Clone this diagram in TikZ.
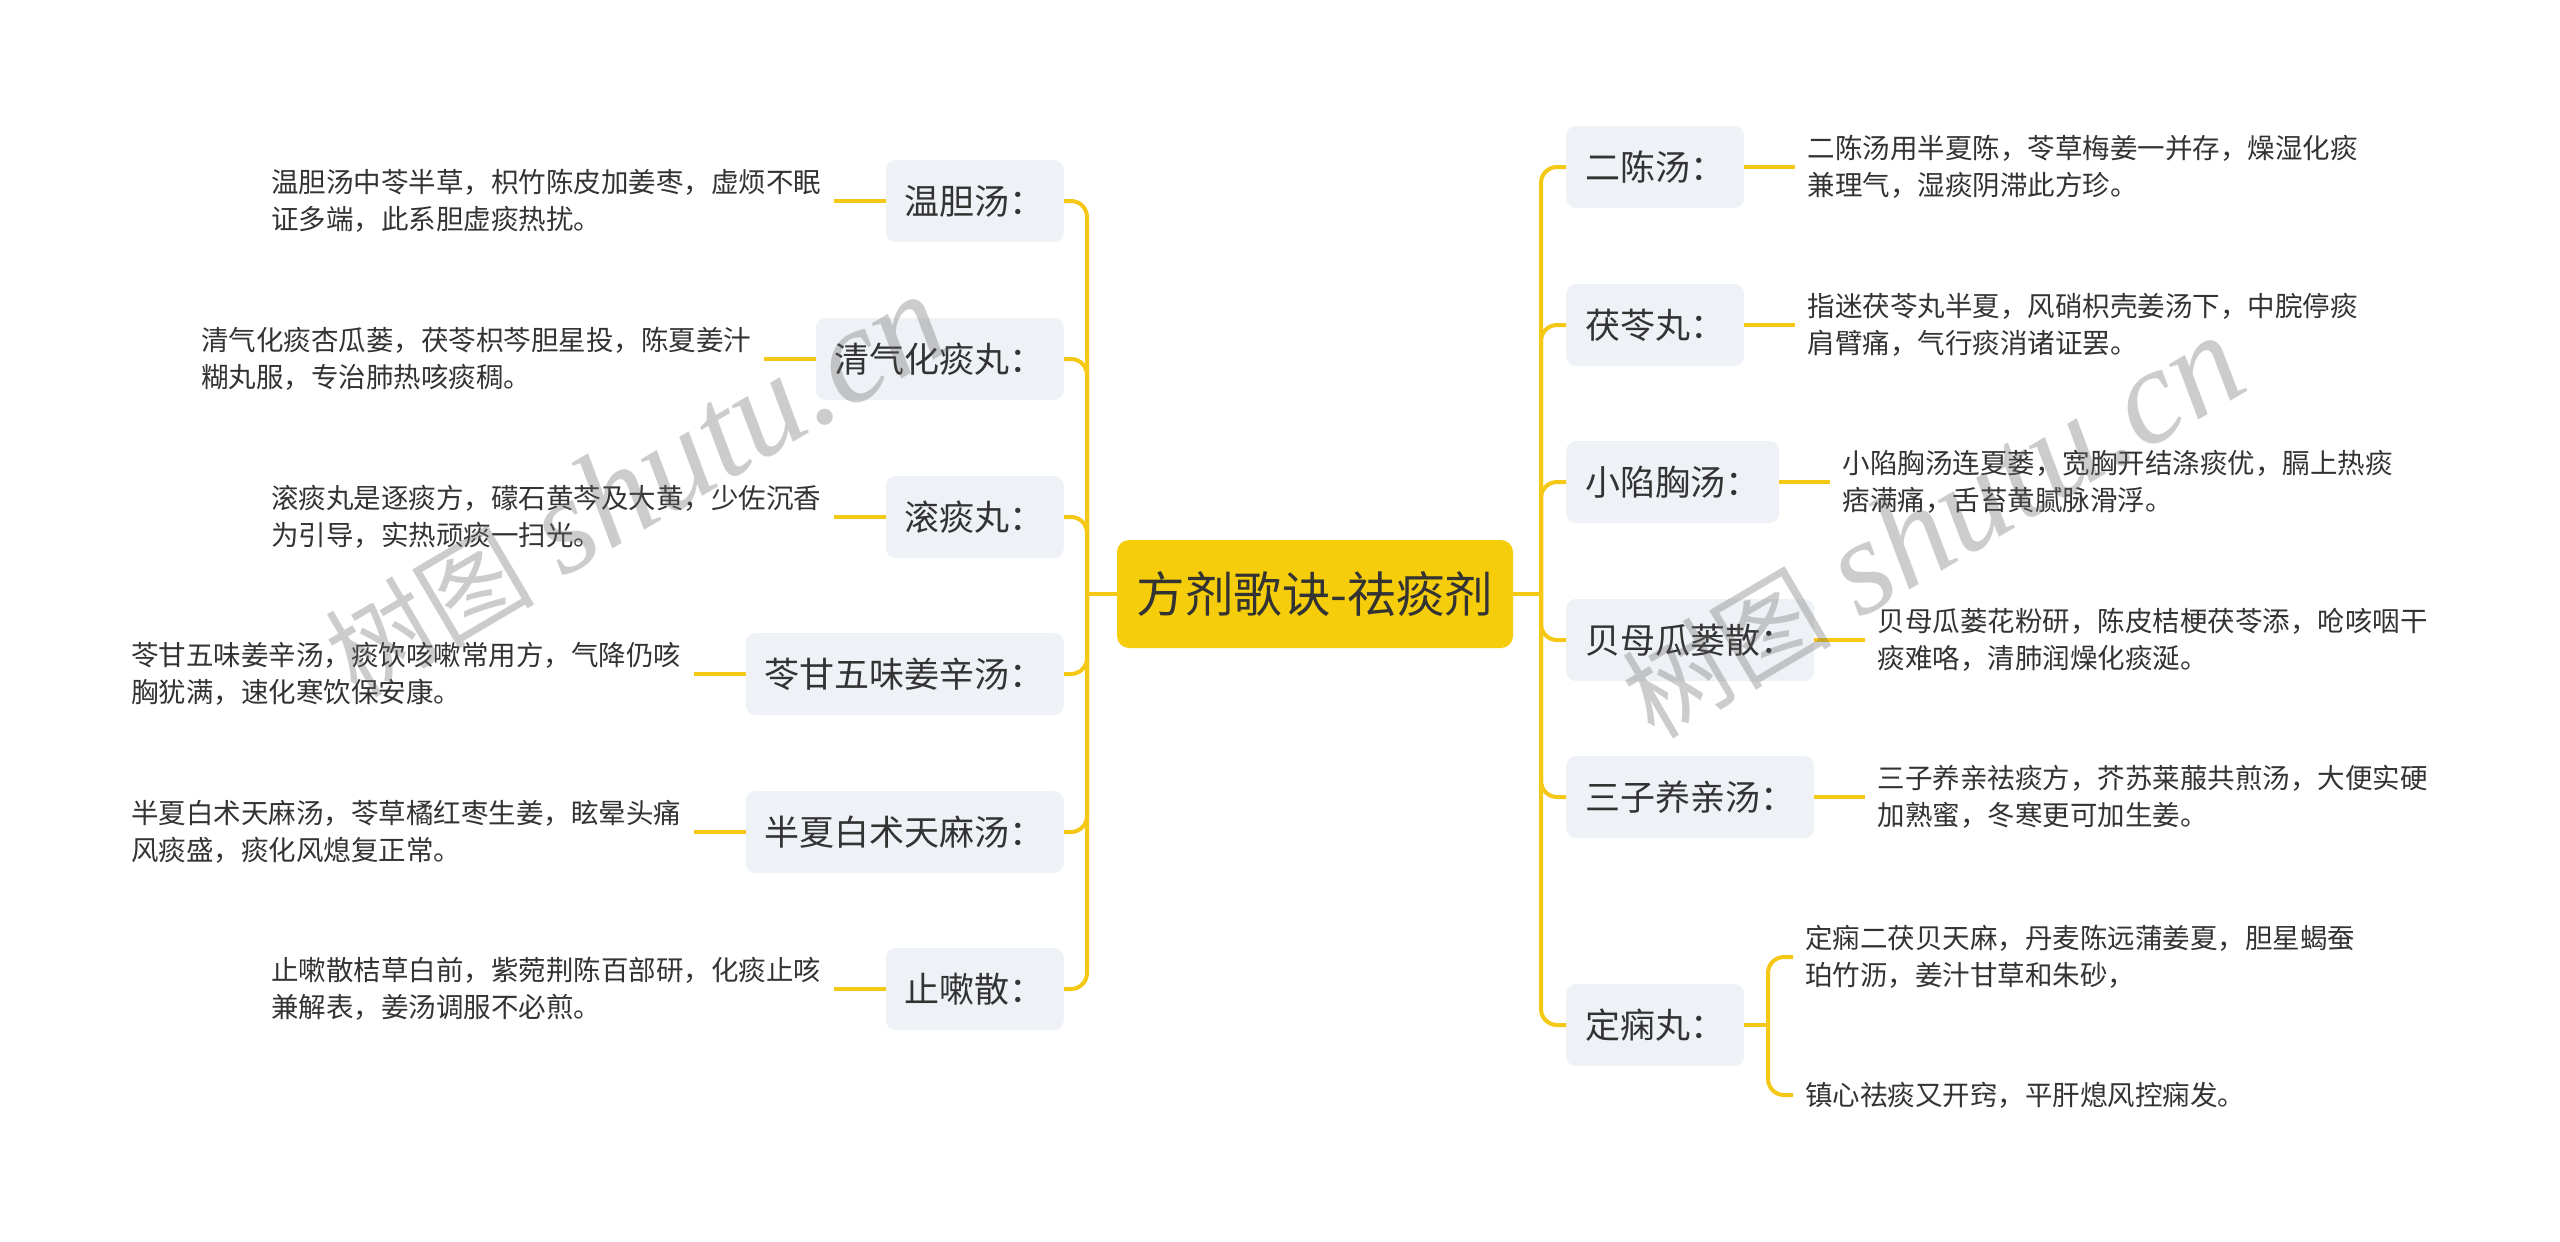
\documentclass[tikz,border=0pt]{standalone}
\usepackage{fontspec}
\setmainfont{Noto Sans CJK SC}
\newfontfamily\wmfont{Liberation Serif}
\usetikzlibrary{positioning}
\definecolor{lineY}{HTML}{F4C814}
\definecolor{rootY}{HTML}{F5CD0A}
\definecolor{boxG}{HTML}{EEF1F5}
\definecolor{txt}{HTML}{333333}
\newcommand\wmtext{{\fontsize{105}{110}\selectfont 树图}\hspace{28pt}{\wmfont\itshape\fontsize{136}{140}\selectfont shutu.cn}}
\begin{document}
\begin{tikzpicture}[x=1pt,y=-1pt,
 root/.style={fill=rootY, rounded corners=12pt, minimum width=396pt, minimum height=108pt, inner sep=0pt, font=\fontsize{48.5}{52}\selectfont, text=txt},
 sub/.style={fill=boxG, rounded corners=10pt, minimum height=82pt, inner xsep=19pt, inner ysep=0pt, font=\fontsize{35}{40}\selectfont, text=txt},
 leaf/.style={align=left, inner xsep=12pt, inner ysep=0pt, font=\fontsize{27.5}{37}\selectfont, text=txt},
 conn/.style={draw=lineY, line width=4pt},
 wm/.style={rotate=30.5, text=black!60, opacity=0.33},
 ]
\fill[white] (0,0) rectangle (2560,1242);
\useasboundingbox (0,0) rectangle (2560,1242);

\node[root] (root) at (1315,594) {方剂歌诀-祛痰剂};
\coordinate (LJ) at (1087,594);
\coordinate (RJ) at (1541,594);

% left
\node[sub, anchor=east] (l1) at (1064,201) {温胆汤：};
\node[sub, anchor=east] (l2) at (1064,359) {清气化痰丸：};
\node[sub, anchor=east] (l3) at (1064,517) {滚痰丸：};
\node[sub, anchor=east] (l4) at (1064,674) {苓甘五味姜辛汤：};
\node[sub, anchor=east] (l5) at (1064,832) {半夏白术天麻汤：};
\node[sub, anchor=east] (l6) at (1064,989) {止嗽散：};

\node[leaf, left=52pt of l1] (t1) {温胆汤中苓半草，枳竹陈皮加姜枣，虚烦不眠\\证多端，此系胆虚痰热扰。};
\node[leaf, left=52pt of l2] (t2) {清气化痰杏瓜蒌，茯苓枳芩胆星投，陈夏姜汁\\糊丸服，专治肺热咳痰稠。};
\node[leaf, left=52pt of l3] (t3) {滚痰丸是逐痰方，礞石黄芩及大黄，少佐沉香\\为引导，实热顽痰一扫光。};
\node[leaf, left=52pt of l4] (t4) {苓甘五味姜辛汤，痰饮咳嗽常用方，气降仍咳\\胸犹满，速化寒饮保安康。};
\node[leaf, left=52pt of l5] (t5) {半夏白术天麻汤，苓草橘红枣生姜，眩晕头痛\\风痰盛，痰化风熄复正常。};
\node[leaf, left=52pt of l6] (t6) {止嗽散桔草白前，紫菀荆陈百部研，化痰止咳\\兼解表，姜汤调服不必煎。};

% right
\node[sub, anchor=west] (r1) at (1566,167) {二陈汤：};
\node[sub, anchor=west] (r2) at (1566,325) {茯苓丸：};
\node[sub, anchor=west] (r3) at (1566,482) {小陷胸汤：};
\node[sub, anchor=west] (r4) at (1566,640) {贝母瓜蒌散：};
\node[sub, anchor=west] (r5) at (1566,797) {三子养亲汤：};
\node[sub, anchor=west] (r6) at (1566,1025) {定痫丸：};

\node[leaf, right=51pt of r1] (s1) {二陈汤用半夏陈，苓草梅姜一并存，燥湿化痰\\兼理气，湿痰阴滞此方珍。};
\node[leaf, right=51pt of r2] (s2) {指迷茯苓丸半夏，风硝枳壳姜汤下，中脘停痰\\肩臂痛，气行痰消诸证罢。};
\node[leaf, right=51pt of r3] (s3) {小陷胸汤连夏蒌，宽胸开结涤痰优，膈上热痰\\痞满痛，舌苔黄腻脉滑浮。};
\node[leaf, right=51pt of r4] (s4) {贝母瓜蒌花粉研，陈皮桔梗茯苓添，呛咳咽干\\痰难咯，清肺润燥化痰涎。};
\node[leaf, right=51pt of r5] (s5) {三子养亲祛痰方，芥苏莱菔共煎汤，大便实硬\\加熟蜜，冬寒更可加生姜。};
\coordinate (DJ) at (1768,1025);
\node[leaf, anchor=west] (s6a) at (1793,957) {定痫二茯贝天麻，丹麦陈远蒲姜夏，胆星蝎蚕\\珀竹沥，姜汁甘草和朱砂，};
\node[leaf, anchor=west] (s6b) at (1793,1095) {镇心祛痰又开窍，平肝熄风控痫发。};

% connectors
\draw[conn] (root.west) -- (LJ);
\draw[conn] (root.east) -- (RJ);
\foreach \n in {l1,l2,l3,l4,l5,l6} \draw[conn, rounded corners=16pt] (LJ) |- (\n.east);
\foreach \n in {r1,r2,r3,r4,r5,r6} \draw[conn, rounded corners=16pt] (RJ) |- (\n.west);
\foreach \a/\b in {t1/l1,t2/l2,t3/l3,t4/l4,t5/l5,t6/l6} \draw[conn] (\a.east) -- (\b.west);
\foreach \a/\b in {r1/s1,r2/s2,r3/s3,r4/s4,r5/s5} \draw[conn] (\a.east) -- (\b.west);
\draw[conn] (r6.east) -- (DJ);
\draw[conn, rounded corners=16pt] (DJ) |- (s6a.west);
\draw[conn, rounded corners=16pt] (DJ) |- (s6b.west);

% watermarks (translucent, on top)
\node[wm] (wm1) at (635,486) {\wmtext};
\node[wm] (wm2) at (1932,527) {\wmtext};
\end{tikzpicture}
\end{document}
